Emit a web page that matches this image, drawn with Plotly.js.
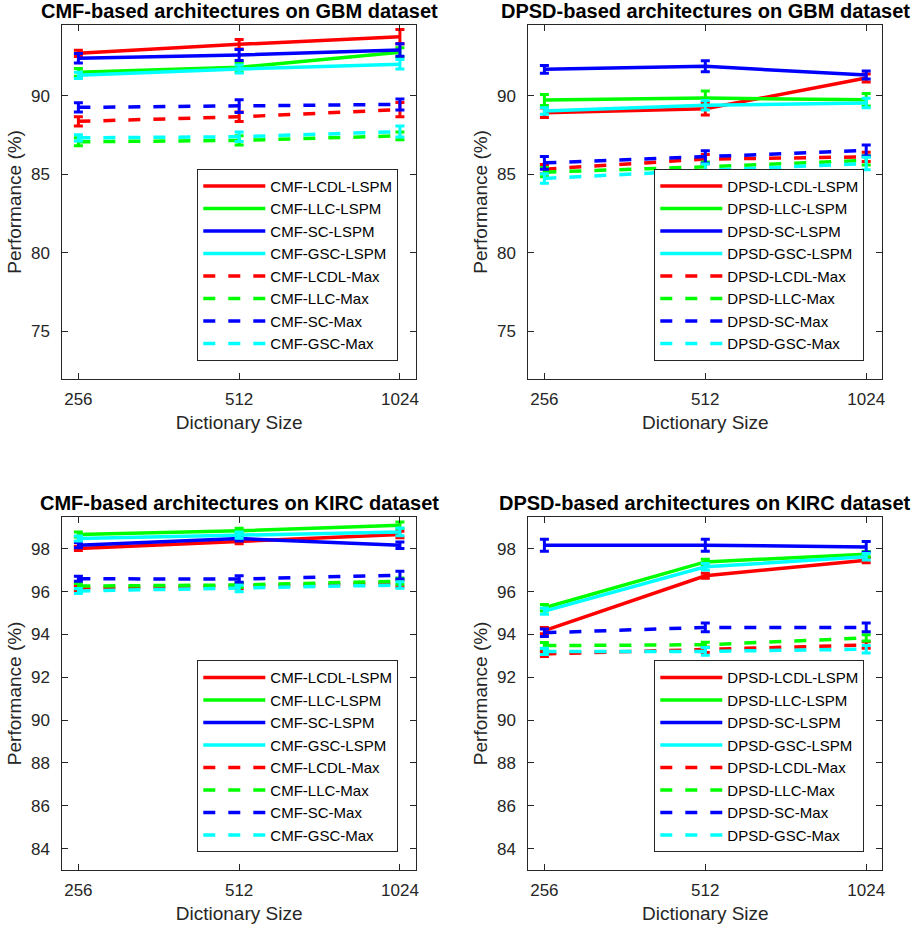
<!DOCTYPE html>
<html>
<head>
<meta charset="utf-8">
<script src="https://cdn.plot.ly/plotly-3.0.1.min.js"></script>
<style>html,body{margin:0;padding:0;background:#fff;}#chart{width:917px;height:932px;}</style>
</head>
<body>
<div id="chart"></div>
<script>
// ---------- data ----------
const dictSizes = [256, 512, 1024];
const tickLabels = ['256', '512', '1024'];
const methods = ['LCDL-LSPM', 'LLC-LSPM', 'SC-LSPM', 'GSC-LSPM', 'LCDL-Max', 'LLC-Max', 'SC-Max', 'GSC-Max'];

const panelTitles = [
  'CMF-based architectures on GBM dataset',
  'DPSD-based architectures on GBM dataset',
  'CMF-based architectures on KIRC dataset',
  'DPSD-based architectures on KIRC dataset'
];
const panelPrefixes = ['CMF', 'DPSD', 'CMF', 'DPSD'];

// values per panel, one row per method (order as in `methods`)
const cmfGbmValues = [
  [92.70, 93.27, 93.76],
  [91.49, 91.81, 92.76],
  [92.38, 92.59, 92.91],
  [91.30, 91.70, 92.00],
  [88.37, 88.66, 89.12],
  [87.07, 87.16, 87.45],
  [89.26, 89.34, 89.45],
  [87.32, 87.39, 87.72]
];
const cmfGbmErrors = [
  [0.20, 0.30, 0.45], [0.25, 0.30, 0.30], [0.30, 0.35, 0.40], [0.20, 0.25, 0.30],
  [0.30, 0.30, 0.45], [0.25, 0.30, 0.25], [0.30, 0.40, 0.35], [0.20, 0.30, 0.35]
];

const dpsdGbmValues = [
  [88.92, 89.17, 91.13],
  [89.73, 89.85, 89.75],
  [91.68, 91.87, 91.32],
  [89.03, 89.39, 89.54],
  [85.33, 85.97, 86.11],
  [85.14, 85.48, 85.89],
  [85.73, 86.10, 86.52],
  [84.74, 85.25, 85.69]
];
const dpsdGbmErrors = [
  [0.30, 0.40, 0.25], [0.35, 0.45, 0.40], [0.25, 0.35, 0.25], [0.20, 0.30, 0.30],
  [0.30, 0.30, 0.30], [0.30, 0.30, 0.30], [0.40, 0.40, 0.35], [0.30, 0.40, 0.40]
];

const cmfKircValues = [
  [98.02, 98.36, 98.67],
  [98.67, 98.84, 99.10],
  [98.17, 98.48, 98.17],
  [98.48, 98.64, 98.79],
  [96.15, 96.26, 96.38],
  [96.26, 96.31, 96.49],
  [96.60, 96.59, 96.77],
  [96.03, 96.15, 96.31]
];
const cmfKircErrors = [
  [0.10, 0.12, 0.15], [0.12, 0.12, 0.15], [0.12, 0.12, 0.15], [0.12, 0.15, 0.18],
  [0.12, 0.12, 0.15], [0.12, 0.12, 0.15], [0.12, 0.15, 0.18], [0.12, 0.15, 0.15]
];

const dpsdKircValues = [
  [94.18, 96.74, 97.47],
  [95.25, 97.39, 97.75],
  [98.17, 98.17, 98.09],
  [95.09, 97.16, 97.63],
  [93.09, 93.28, 93.51],
  [93.48, 93.52, 93.84],
  [94.08, 94.33, 94.33],
  [93.21, 93.21, 93.31]
];
const dpsdKircErrors = [
  [0.15, 0.12, 0.12], [0.15, 0.12, 0.12], [0.28, 0.28, 0.25], [0.15, 0.15, 0.15],
  [0.12, 0.12, 0.15], [0.15, 0.12, 0.15], [0.18, 0.20, 0.20], [0.15, 0.18, 0.18]
];

const panelValues = [cmfGbmValues, dpsdGbmValues, cmfKircValues, dpsdKircValues];
const panelErrors = [cmfGbmErrors, dpsdGbmErrors, cmfKircErrors, dpsdKircErrors];

// ---------- style ----------
const colors = ['#ff0000', '#00ff00', '#0000ff', '#00ffff', '#ff0000', '#00ff00', '#0000ff', '#00ffff'];
const axisColor = '#262626';
const FONT = 'Liberation Sans, Arial, Helvetica, sans-serif';

const W = 917, H = 932;
const xDomains = [[62.3 / W, 416 / W], [528.3 / W, 882.3 / W]];
const yDomains = [[1 - 378.7 / H, 1 - 25 / H], [1 - 870 / H, 1 - 516.7 / H]];
const yRanges = [[72, 94.5], [72, 94.5], [83, 99.5], [83, 99.5]];
const yTicks = [[75, 80, 85, 90], [75, 80, 85, 90], [84, 86, 88, 90, 92, 94, 96, 98], [84, 86, 88, 90, 92, 94, 96, 98]];
const legendBoxes = [
  {right: 398.3, bottom: 360.7},
  {right: 864.3, bottom: 360.7},
  {right: 398.3, bottom: 852.3},
  {right: 864.3, bottom: 852.3}
];

const lx0 = Math.log10(256), lx1 = Math.log10(1024), pad = 0.1 * Math.log10(2);

const traces = [];
const layout = {
  width: W, height: H,
  margin: {l: 0, r: 0, t: 0, b: 0},
  paper_bgcolor: '#ffffff', plot_bgcolor: '#ffffff',
  font: {family: FONT, color: axisColor},
  showlegend: true,
  annotations: []
};

for (let p = 0; p < 4; p++) {
  const col = p % 2, row = Math.floor(p / 2);
  const suffix = p === 0 ? '' : String(p + 1);
  const xa = 'xaxis' + suffix, ya = 'yaxis' + suffix;
  const legName = 'legend' + suffix;

  for (let m = 0; m < methods.length; m++) {
    traces.push({
      type: 'scatter', mode: 'lines',
      x: dictSizes, y: panelValues[p][m],
      xaxis: 'x' + suffix, yaxis: 'y' + suffix,
      name: panelPrefixes[p] + '-' + methods[m],
      legend: legName,
      line: {color: colors[m], width: 3.5, dash: m < 4 ? 'solid' : '12px,13px'},
      error_y: {type: 'data', array: panelErrors[p][m], visible: true, color: colors[m], thickness: 3, width: 4.5}
    });
  }

  layout[xa] = {
    domain: xDomains[col], anchor: 'y' + suffix,
    type: 'log', range: [lx0 - pad, lx1 + pad],
    tickmode: 'array', tickvals: dictSizes, ticktext: tickLabels,
    ticks: 'inside', ticklen: 6, tickcolor: axisColor, tickwidth: 1,
    showline: true, mirror: 'ticks', linecolor: axisColor, linewidth: 1,
    showgrid: false, zeroline: false,
    tickfont: {size: 17, color: axisColor, family: FONT},
    ticklabelstandoff: 5,
    title: {text: 'Dictionary Size', font: {size: 19, color: axisColor, family: FONT}, standoff: 7}
  };
  layout[ya] = {
    domain: yDomains[row], anchor: 'x' + suffix,
    range: yRanges[p], tickmode: 'array', tickvals: yTicks[p],
    ticks: 'inside', ticklen: 6, tickcolor: axisColor, tickwidth: 1,
    showline: true, mirror: 'ticks', linecolor: axisColor, linewidth: 1,
    showgrid: false, zeroline: false,
    tickfont: {size: 17, color: axisColor, family: FONT},
    ticklabelstandoff: 8,
    title: {text: 'Performance (%)', font: {size: 19, color: axisColor, family: FONT}, standoff: 4}
  };
  layout[legName] = {
    x: legendBoxes[p].right / W, xanchor: 'right',
    y: 1 - legendBoxes[p].bottom / H, yanchor: 'bottom',
    bgcolor: '#ffffff', bordercolor: axisColor, borderwidth: 1,
    font: {size: 15, color: '#000000', family: FONT},
    itemwidth: 62,
    tracegroupgap: 0
  };
  layout.annotations.push({
    text: '<b>' + panelTitles[p] + '</b>',
    xref: 'paper', yref: 'paper',
    x: (xDomains[col][0] + xDomains[col][1]) / 2, xanchor: 'center',
    y: yDomains[row][1], yanchor: 'bottom', yshift: 1,
    showarrow: false,
    font: {size: 20, color: '#000000', family: FONT}
  });
}

Plotly.newPlot('chart', traces, layout, {displayModeBar: false, staticPlot: true});
</script>
</body>
</html>
